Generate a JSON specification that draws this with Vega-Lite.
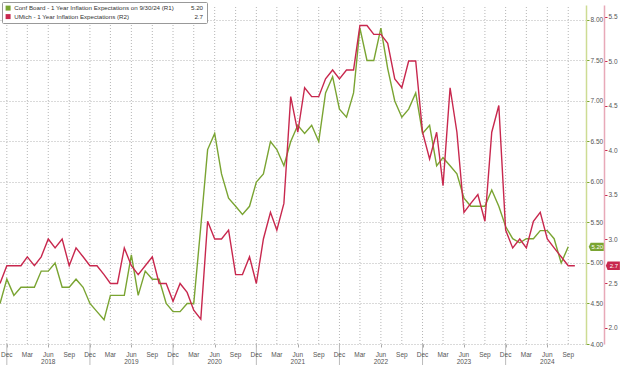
{
  "$schema": "https://vega.github.io/schema/vega-lite/v6.json",
  "width": 586,
  "height": 339,
  "autosize": {"type": "none"},
  "padding": {"left": 0, "top": 5, "right": 34, "bottom": 21},
  "background": "white",
  "config": {
    "font": "Liberation Sans",
    "view": {"stroke": null},
    "axis": {"labelFont": "Liberation Sans", "labelFontSize": 6.5, "labelColor": "#555555", "title": null}
  },
  "datasets": {
    "series": [
      {"date": "2017-11-01", "series": "Conf Board", "value": 4.5},
      {"date": "2017-12-01", "series": "Conf Board", "value": 4.8},
      {"date": "2018-01-01", "series": "Conf Board", "value": 4.6},
      {"date": "2018-02-01", "series": "Conf Board", "value": 4.7},
      {"date": "2018-03-01", "series": "Conf Board", "value": 4.7},
      {"date": "2018-04-01", "series": "Conf Board", "value": 4.7},
      {"date": "2018-05-01", "series": "Conf Board", "value": 4.9},
      {"date": "2018-06-01", "series": "Conf Board", "value": 4.9},
      {"date": "2018-07-01", "series": "Conf Board", "value": 5.0},
      {"date": "2018-08-01", "series": "Conf Board", "value": 4.7},
      {"date": "2018-09-01", "series": "Conf Board", "value": 4.7},
      {"date": "2018-10-01", "series": "Conf Board", "value": 4.8},
      {"date": "2018-11-01", "series": "Conf Board", "value": 4.7},
      {"date": "2018-12-01", "series": "Conf Board", "value": 4.5},
      {"date": "2019-01-01", "series": "Conf Board", "value": 4.4},
      {"date": "2019-02-01", "series": "Conf Board", "value": 4.3},
      {"date": "2019-03-01", "series": "Conf Board", "value": 4.6},
      {"date": "2019-04-01", "series": "Conf Board", "value": 4.6},
      {"date": "2019-05-01", "series": "Conf Board", "value": 4.6},
      {"date": "2019-06-01", "series": "Conf Board", "value": 5.1},
      {"date": "2019-07-01", "series": "Conf Board", "value": 4.6},
      {"date": "2019-08-01", "series": "Conf Board", "value": 4.9},
      {"date": "2019-09-01", "series": "Conf Board", "value": 4.8},
      {"date": "2019-10-01", "series": "Conf Board", "value": 4.8},
      {"date": "2019-11-01", "series": "Conf Board", "value": 4.5},
      {"date": "2019-12-01", "series": "Conf Board", "value": 4.4},
      {"date": "2020-01-01", "series": "Conf Board", "value": 4.4},
      {"date": "2020-02-01", "series": "Conf Board", "value": 4.5},
      {"date": "2020-03-01", "series": "Conf Board", "value": 4.5},
      {"date": "2020-04-01", "series": "Conf Board", "value": 5.45},
      {"date": "2020-05-01", "series": "Conf Board", "value": 6.4},
      {"date": "2020-06-01", "series": "Conf Board", "value": 6.6},
      {"date": "2020-07-01", "series": "Conf Board", "value": 6.1},
      {"date": "2020-08-01", "series": "Conf Board", "value": 5.8},
      {"date": "2020-09-01", "series": "Conf Board", "value": 5.7},
      {"date": "2020-10-01", "series": "Conf Board", "value": 5.6},
      {"date": "2020-11-01", "series": "Conf Board", "value": 5.7},
      {"date": "2020-12-01", "series": "Conf Board", "value": 6.0},
      {"date": "2021-01-01", "series": "Conf Board", "value": 6.1},
      {"date": "2021-02-01", "series": "Conf Board", "value": 6.5},
      {"date": "2021-03-01", "series": "Conf Board", "value": 6.4},
      {"date": "2021-04-01", "series": "Conf Board", "value": 6.2},
      {"date": "2021-05-01", "series": "Conf Board", "value": 6.5},
      {"date": "2021-06-01", "series": "Conf Board", "value": 6.7},
      {"date": "2021-07-01", "series": "Conf Board", "value": 6.6},
      {"date": "2021-08-01", "series": "Conf Board", "value": 6.7},
      {"date": "2021-09-01", "series": "Conf Board", "value": 6.5},
      {"date": "2021-10-01", "series": "Conf Board", "value": 7.1},
      {"date": "2021-11-01", "series": "Conf Board", "value": 7.3},
      {"date": "2021-12-01", "series": "Conf Board", "value": 6.9},
      {"date": "2022-01-01", "series": "Conf Board", "value": 6.8},
      {"date": "2022-02-01", "series": "Conf Board", "value": 7.1},
      {"date": "2022-03-01", "series": "Conf Board", "value": 7.9},
      {"date": "2022-04-01", "series": "Conf Board", "value": 7.5},
      {"date": "2022-05-01", "series": "Conf Board", "value": 7.5},
      {"date": "2022-06-01", "series": "Conf Board", "value": 7.9},
      {"date": "2022-07-01", "series": "Conf Board", "value": 7.4},
      {"date": "2022-08-01", "series": "Conf Board", "value": 7.0},
      {"date": "2022-09-01", "series": "Conf Board", "value": 6.8},
      {"date": "2022-10-01", "series": "Conf Board", "value": 6.9},
      {"date": "2022-11-01", "series": "Conf Board", "value": 7.1},
      {"date": "2022-12-01", "series": "Conf Board", "value": 6.6},
      {"date": "2023-01-01", "series": "Conf Board", "value": 6.7},
      {"date": "2023-02-01", "series": "Conf Board", "value": 6.2},
      {"date": "2023-03-01", "series": "Conf Board", "value": 6.3},
      {"date": "2023-04-01", "series": "Conf Board", "value": 6.2},
      {"date": "2023-05-01", "series": "Conf Board", "value": 6.1},
      {"date": "2023-06-01", "series": "Conf Board", "value": 5.8},
      {"date": "2023-07-01", "series": "Conf Board", "value": 5.7},
      {"date": "2023-08-01", "series": "Conf Board", "value": 5.7},
      {"date": "2023-09-01", "series": "Conf Board", "value": 5.7},
      {"date": "2023-10-01", "series": "Conf Board", "value": 5.9},
      {"date": "2023-11-01", "series": "Conf Board", "value": 5.7},
      {"date": "2023-12-01", "series": "Conf Board", "value": 5.45},
      {"date": "2024-01-01", "series": "Conf Board", "value": 5.3},
      {"date": "2024-02-01", "series": "Conf Board", "value": 5.25},
      {"date": "2024-03-01", "series": "Conf Board", "value": 5.3},
      {"date": "2024-04-01", "series": "Conf Board", "value": 5.3},
      {"date": "2024-05-01", "series": "Conf Board", "value": 5.4},
      {"date": "2024-06-01", "series": "Conf Board", "value": 5.4},
      {"date": "2024-07-01", "series": "Conf Board", "value": 5.3},
      {"date": "2024-08-01", "series": "Conf Board", "value": 5.0},
      {"date": "2024-09-01", "series": "Conf Board", "value": 5.2},
      {"date": "2017-11-01", "series": "UMich", "value": 2.5},
      {"date": "2017-12-01", "series": "UMich", "value": 2.7},
      {"date": "2018-01-01", "series": "UMich", "value": 2.7},
      {"date": "2018-02-01", "series": "UMich", "value": 2.7},
      {"date": "2018-03-01", "series": "UMich", "value": 2.8},
      {"date": "2018-04-01", "series": "UMich", "value": 2.7},
      {"date": "2018-05-01", "series": "UMich", "value": 2.8},
      {"date": "2018-06-01", "series": "UMich", "value": 3.0},
      {"date": "2018-07-01", "series": "UMich", "value": 2.9},
      {"date": "2018-08-01", "series": "UMich", "value": 3.0},
      {"date": "2018-09-01", "series": "UMich", "value": 2.7},
      {"date": "2018-10-01", "series": "UMich", "value": 2.9},
      {"date": "2018-11-01", "series": "UMich", "value": 2.8},
      {"date": "2018-12-01", "series": "UMich", "value": 2.7},
      {"date": "2019-01-01", "series": "UMich", "value": 2.7},
      {"date": "2019-02-01", "series": "UMich", "value": 2.6},
      {"date": "2019-03-01", "series": "UMich", "value": 2.5},
      {"date": "2019-04-01", "series": "UMich", "value": 2.5},
      {"date": "2019-05-01", "series": "UMich", "value": 2.9},
      {"date": "2019-06-01", "series": "UMich", "value": 2.7},
      {"date": "2019-07-01", "series": "UMich", "value": 2.6},
      {"date": "2019-08-01", "series": "UMich", "value": 2.7},
      {"date": "2019-09-01", "series": "UMich", "value": 2.8},
      {"date": "2019-10-01", "series": "UMich", "value": 2.5},
      {"date": "2019-11-01", "series": "UMich", "value": 2.5},
      {"date": "2019-12-01", "series": "UMich", "value": 2.3},
      {"date": "2020-01-01", "series": "UMich", "value": 2.5},
      {"date": "2020-02-01", "series": "UMich", "value": 2.4},
      {"date": "2020-03-01", "series": "UMich", "value": 2.2},
      {"date": "2020-04-01", "series": "UMich", "value": 2.1},
      {"date": "2020-05-01", "series": "UMich", "value": 3.2},
      {"date": "2020-06-01", "series": "UMich", "value": 3.0},
      {"date": "2020-07-01", "series": "UMich", "value": 3.0},
      {"date": "2020-08-01", "series": "UMich", "value": 3.1},
      {"date": "2020-09-01", "series": "UMich", "value": 2.6},
      {"date": "2020-10-01", "series": "UMich", "value": 2.6},
      {"date": "2020-11-01", "series": "UMich", "value": 2.8},
      {"date": "2020-12-01", "series": "UMich", "value": 2.5},
      {"date": "2021-01-01", "series": "UMich", "value": 3.0},
      {"date": "2021-02-01", "series": "UMich", "value": 3.3},
      {"date": "2021-03-01", "series": "UMich", "value": 3.1},
      {"date": "2021-04-01", "series": "UMich", "value": 3.4},
      {"date": "2021-05-01", "series": "UMich", "value": 4.6},
      {"date": "2021-06-01", "series": "UMich", "value": 4.2},
      {"date": "2021-07-01", "series": "UMich", "value": 4.7},
      {"date": "2021-08-01", "series": "UMich", "value": 4.6},
      {"date": "2021-09-01", "series": "UMich", "value": 4.6},
      {"date": "2021-10-01", "series": "UMich", "value": 4.8},
      {"date": "2021-11-01", "series": "UMich", "value": 4.9},
      {"date": "2021-12-01", "series": "UMich", "value": 4.8},
      {"date": "2022-01-01", "series": "UMich", "value": 4.9},
      {"date": "2022-02-01", "series": "UMich", "value": 4.9},
      {"date": "2022-03-01", "series": "UMich", "value": 5.4},
      {"date": "2022-04-01", "series": "UMich", "value": 5.4},
      {"date": "2022-05-01", "series": "UMich", "value": 5.3},
      {"date": "2022-06-01", "series": "UMich", "value": 5.3},
      {"date": "2022-07-01", "series": "UMich", "value": 5.2},
      {"date": "2022-08-01", "series": "UMich", "value": 4.8},
      {"date": "2022-09-01", "series": "UMich", "value": 4.7},
      {"date": "2022-10-01", "series": "UMich", "value": 5.0},
      {"date": "2022-11-01", "series": "UMich", "value": 5.0},
      {"date": "2022-12-01", "series": "UMich", "value": 4.2},
      {"date": "2023-01-01", "series": "UMich", "value": 3.9},
      {"date": "2023-02-01", "series": "UMich", "value": 4.2},
      {"date": "2023-03-01", "series": "UMich", "value": 3.6},
      {"date": "2023-04-01", "series": "UMich", "value": 4.7},
      {"date": "2023-05-01", "series": "UMich", "value": 4.2},
      {"date": "2023-06-01", "series": "UMich", "value": 3.3},
      {"date": "2023-07-01", "series": "UMich", "value": 3.4},
      {"date": "2023-08-01", "series": "UMich", "value": 3.5},
      {"date": "2023-09-01", "series": "UMich", "value": 3.2},
      {"date": "2023-10-01", "series": "UMich", "value": 4.2},
      {"date": "2023-11-01", "series": "UMich", "value": 4.5},
      {"date": "2023-12-01", "series": "UMich", "value": 3.1},
      {"date": "2024-01-01", "series": "UMich", "value": 2.9},
      {"date": "2024-02-01", "series": "UMich", "value": 3.0},
      {"date": "2024-03-01", "series": "UMich", "value": 2.9},
      {"date": "2024-04-01", "series": "UMich", "value": 3.2},
      {"date": "2024-05-01", "series": "UMich", "value": 3.3},
      {"date": "2024-06-01", "series": "UMich", "value": 3.0},
      {"date": "2024-07-01", "series": "UMich", "value": 2.9},
      {"date": "2024-08-01", "series": "UMich", "value": 2.8},
      {"date": "2024-09-01", "series": "UMich", "value": 2.7},
      {"date": "2024-09-30", "series": "UMich", "value": 2.7}
    ],
    "tags": [
      {"date": "2024-09-01", "series": "Conf Board", "value": 5.2, "label": "5.20"},
      {"date": "2024-09-30", "series": "UMich", "value": 2.7, "label": "2.7"}
    ],
    "months": [
      {"date": "2017-12-01", "label": "Dec"},
      {"date": "2018-03-01", "label": "Mar"}, {"date": "2018-06-01", "label": "Jun"}, {"date": "2018-09-01", "label": "Sep"}, {"date": "2018-12-01", "label": "Dec"},
      {"date": "2019-03-01", "label": "Mar"}, {"date": "2019-06-01", "label": "Jun"}, {"date": "2019-09-01", "label": "Sep"}, {"date": "2019-12-01", "label": "Dec"},
      {"date": "2020-03-01", "label": "Mar"}, {"date": "2020-06-01", "label": "Jun"}, {"date": "2020-09-01", "label": "Sep"}, {"date": "2020-12-01", "label": "Dec"},
      {"date": "2021-03-01", "label": "Mar"}, {"date": "2021-06-01", "label": "Jun"}, {"date": "2021-09-01", "label": "Sep"}, {"date": "2021-12-01", "label": "Dec"},
      {"date": "2022-03-01", "label": "Mar"}, {"date": "2022-06-01", "label": "Jun"}, {"date": "2022-09-01", "label": "Sep"}, {"date": "2022-12-01", "label": "Dec"},
      {"date": "2023-03-01", "label": "Mar"}, {"date": "2023-06-01", "label": "Jun"}, {"date": "2023-09-01", "label": "Sep"}, {"date": "2023-12-01", "label": "Dec"},
      {"date": "2024-03-01", "label": "Mar"}, {"date": "2024-06-01", "label": "Jun"}, {"date": "2024-09-01", "label": "Sep"}
    ],
    "years": [
      {"date": "2018-06-01", "label": "2018"}, {"date": "2019-06-01", "label": "2019"}, {"date": "2020-06-01", "label": "2020"},
      {"date": "2021-06-01", "label": "2021"}, {"date": "2022-06-01", "label": "2022"}, {"date": "2023-06-01", "label": "2023"}, {"date": "2024-06-01", "label": "2024"}
    ],
    "decs": [
      {"date": "2017-12-01"}, {"date": "2018-12-01"}, {"date": "2019-12-01"}, {"date": "2020-12-01"}, {"date": "2021-12-01"}, {"date": "2022-12-01"}, {"date": "2023-12-01"}
    ]
  },
  "layer": [
    {
      "layer": [
        {
          "data": {"name": "months"},
          "mark": {"type": "rule", "color": "#b5b5b5", "strokeWidth": 1, "strokeDash": [1, 2], "clip": false},
          "encoding": {
            "x": {"field": "date", "type": "temporal"},
            "y": {"datum": 4.0, "type": "quantitative"},
            "y2": {"datum": 8.185}
          }
        },
        {
          "data": {"name": "series"},
          "transform": [{"filter": "datum.series == 'Conf Board'"}],
          "mark": {"type": "line", "strokeWidth": 1.4, "clip": false},
          "encoding": {
            "x": {"field": "date", "type": "temporal",
              "scale": {"type": "utc", "domain": [{"year": 2017, "month": 11, "date": 1, "utc": true}, {"year": 2024, "month": 11, "date": 18, "utc": true}]},
              "axis": {
                "values": [
                  {"year": 2017, "month": 12, "date": 1, "utc": true},
                  {"year": 2018, "month": 3, "date": 1, "utc": true}, {"year": 2018, "month": 6, "date": 1, "utc": true}, {"year": 2018, "month": 9, "date": 1, "utc": true}, {"year": 2018, "month": 12, "date": 1, "utc": true},
                  {"year": 2019, "month": 3, "date": 1, "utc": true}, {"year": 2019, "month": 6, "date": 1, "utc": true}, {"year": 2019, "month": 9, "date": 1, "utc": true}, {"year": 2019, "month": 12, "date": 1, "utc": true},
                  {"year": 2020, "month": 3, "date": 1, "utc": true}, {"year": 2020, "month": 6, "date": 1, "utc": true}, {"year": 2020, "month": 9, "date": 1, "utc": true}, {"year": 2020, "month": 12, "date": 1, "utc": true},
                  {"year": 2021, "month": 3, "date": 1, "utc": true}, {"year": 2021, "month": 6, "date": 1, "utc": true}, {"year": 2021, "month": 9, "date": 1, "utc": true}, {"year": 2021, "month": 12, "date": 1, "utc": true},
                  {"year": 2022, "month": 3, "date": 1, "utc": true}, {"year": 2022, "month": 6, "date": 1, "utc": true}, {"year": 2022, "month": 9, "date": 1, "utc": true}, {"year": 2022, "month": 12, "date": 1, "utc": true},
                  {"year": 2023, "month": 3, "date": 1, "utc": true}, {"year": 2023, "month": 6, "date": 1, "utc": true}, {"year": 2023, "month": 9, "date": 1, "utc": true}, {"year": 2023, "month": 12, "date": 1, "utc": true},
                  {"year": 2024, "month": 3, "date": 1, "utc": true}, {"year": 2024, "month": 6, "date": 1, "utc": true}, {"year": 2024, "month": 9, "date": 1, "utc": true}
                ],
                "labels": false, "grid": false,
                "domain": false, "tickColor": "#aaaaaa", "tickSize": 3
              }
            },
            "y": {"field": "value", "type": "quantitative",
              "scale": {"domain": [4.0, 8.185], "nice": false, "zero": false},
              "axis": {"orient": "right", "values": [4.0, 4.5, 5.0, 5.5, 6.0, 6.5, 7.0, 7.5, 8.0], "format": ".2f",
                "grid": true, "gridColor": "#b5b5b5", "gridDash": [1, 2], "gridWidth": 1,
                "domainColor": "#cddc94", "domainWidth": 1.5, "tickColor": "#7aa432", "tickSize": 3, "labelPadding": 1, "labelFontSize": 6.5}
            },
            "color": {"field": "series", "type": "nominal",
              "scale": {"domain": ["Conf Board", "UMich"], "range": ["#7aa432", "#c8284e"]},
              "legend": {
                "orient": "none", "legendX": 2, "legendY": -3, "title": null, "direction": "vertical",
                "fillColor": "white", "strokeColor": "#999999", "padding": 3, "cornerRadius": 1,
                "labelFontSize": 6.2, "labelColor": "#333333", "labelLimit": 400, "labelOffset": 3,
                "symbolType": "square", "symbolSize": 25, "symbolStrokeWidth": 0, "rowPadding": 1.5,
                "labelExpr": "datum.label == 'Conf Board' ? 'Conf Board - 1 Year Inflation Expectations on 9/30/24 (R1)\u00a0\u00a0\u00a0\u00a0\u00a0\u00a0\u00a0\u00a0\u00a0\u00a05.20' : 'UMich - 1 Year Inflation Expectations (R2)\u00a0\u00a0\u00a0\u00a0\u00a0\u00a0\u00a0\u00a0\u00a0\u00a0\u00a0\u00a0\u00a0\u00a0\u00a0\u00a0\u00a0\u00a0\u00a0\u00a0\u00a0\u00a0\u00a0\u00a0\u00a0\u00a0\u00a0\u00a0\u00a0\u00a0\u00a0\u00a0\u00a0\u00a0\u00a0\u00a0\u00a0\u00a02.7'",
                "encode": {"symbols": {"update": {"fill": {"scale": "color", "field": "value"}, "fillOpacity": {"value": 1}, "strokeWidth": {"value": 0}, "shape": {"value": "square"}}}}
              }
            }
          }
        },
        {
          "data": {"name": "decs"},
          "mark": {"type": "rule", "color": "#bbbbbb", "strokeWidth": 1, "clip": false},
          "encoding": {
            "x": {"field": "date", "type": "temporal"},
            "y": {"datum": 4.0, "type": "quantitative"},
            "y2": {"datum": 3.74}
          }
        },
        {
          "data": {"name": "months"},
          "mark": {"type": "text", "fontSize": 6.5, "color": "#555555", "align": "center", "baseline": "middle", "clip": false},
          "encoding": {
            "x": {"field": "date", "type": "temporal"},
            "y": {"datum": 3.862, "type": "quantitative"},
            "text": {"field": "label"}
          }
        },
        {
          "data": {"name": "years"},
          "mark": {"type": "text", "fontSize": 6.5, "color": "#555555", "align": "center", "baseline": "middle", "clip": false},
          "encoding": {
            "x": {"field": "date", "type": "temporal"},
            "y": {"datum": 3.774, "type": "quantitative"},
            "text": {"field": "label"}
          }
        },
        {
          "data": {"name": "tags"},
          "transform": [{"filter": "datum.series == 'Conf Board'"}],
          "mark": {"type": "point", "shape": "M-1,0L-0.75,-0.55L1,-0.55L1,0.55L-0.75,0.55Z", "size": 225, "filled": true, "opacity": 1, "color": "#7aa432", "xOffset": 28},
          "encoding": {
            "x": {"field": "date", "type": "temporal"},
            "y": {"field": "value", "type": "quantitative"}
          }
        },
        {
          "data": {"name": "tags"},
          "transform": [{"filter": "datum.series == 'Conf Board'"}],
          "mark": {"type": "text", "dx": 29, "fontSize": 6, "color": "white", "align": "center", "baseline": "middle"},
          "encoding": {
            "x": {"field": "date", "type": "temporal"},
            "y": {"field": "value", "type": "quantitative"},
            "text": {"field": "label"}
          }
        }
      ]
    },
    {
      "layer": [
        {
          "data": {"name": "series"},
          "transform": [{"filter": "datum.series == 'UMich'"}],
          "mark": {"type": "line", "strokeWidth": 1.4, "clip": false},
          "encoding": {
            "x": {"field": "date", "type": "temporal"},
            "y": {"field": "value", "type": "quantitative",
              "scale": {"domain": [1.82, 5.63], "nice": false, "zero": false},
              "axis": {"orient": "right", "offset": 18, "values": [2.0, 2.5, 3.0, 3.5, 4.0, 4.5, 5.0, 5.5], "format": ".1f", "grid": false,
                "domainColor": "#e8a9b8", "domainWidth": 1.5, "tickColor": "#c8284e", "tickSize": 3, "labelPadding": 1, "labelFontSize": 6.5}
            },
            "color": {"field": "series", "type": "nominal"}
          }
        },
        {
          "data": {"name": "tags"},
          "transform": [{"filter": "datum.series == 'UMich'"}],
          "mark": {"type": "point", "shape": "M-1,0L-0.75,-0.6L1,-0.6L1,0.6L-0.75,0.6Z", "size": 196, "filled": true, "opacity": 1, "color": "#c8284e", "xOffset": 38},
          "encoding": {
            "x": {"field": "date", "type": "temporal"},
            "y": {"field": "value", "type": "quantitative"}
          }
        },
        {
          "data": {"name": "tags"},
          "transform": [{"filter": "datum.series == 'UMich'"}],
          "mark": {"type": "text", "dx": 39, "fontSize": 6, "color": "white", "align": "center", "baseline": "middle"},
          "encoding": {
            "x": {"field": "date", "type": "temporal"},
            "y": {"field": "value", "type": "quantitative"},
            "text": {"field": "label"}
          }
        }
      ]
    }
  ],
  "resolve": {"scale": {"y": "independent"}}
}
